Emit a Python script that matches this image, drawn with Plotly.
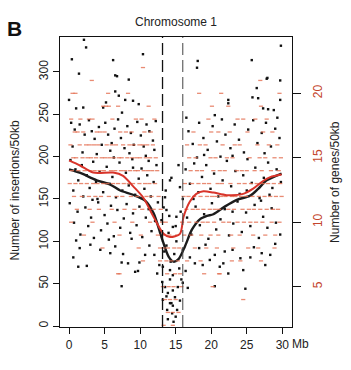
import plotly.graph_objects as go

# ---------------- data ----------------
insertion_points = [
    # top region
    (2.1,338),(2.4,329),(0.4,315),(1.4,298),(6.2,314),(10.4,321),(6.5,296),(6.75,295),(8.4,291),(6.5,277),
    (0.0,267),(1.0,257),(2.0,258),(5.2,264),(7.9,267),(7.0,272),(9.0,266),(9.8,262),(4.8,258),(7.45,252),
    (29.8,331),(18.1,313),(18.0,305),(25.7,314),(27.8,292),(27.9,293),(26.4,281),(26.6,269),(25.8,270),
    (22.4,267),(22.4,263),(29.7,290),(27.3,257),(28.0,256),(28.8,255),(29.7,267),(16.5,246),(29.3,246),
    # left arm 200-250
    (0.3,240),(0.8,232),(1.5,238),(2.2,226),(2.8,243),(3.2,230),(3.6,221),(4.2,235),(4.6,214),(5.1,240),
    (5.5,226),(6.0,216),(6.4,233),(6.9,244),(7.3,222),(7.8,210),(8.2,236),(8.7,228),(9.1,214),(9.6,241),
    (10.1,225),(10.5,212),(10.9,238),(11.3,230),(11.8,219),(12.2,242),(0.5,212),(1.9,205),(3.9,203),
    (5.8,207),(8.5,204),(10.8,201),(12.0,208),
    # left arm 150-200
    (0.2,196),(0.9,185),(1.3,172),(1.8,190),(2.5,178),(2.9,163),(3.4,194),(3.8,170),(4.3,182),(4.8,158),
    (5.3,188),(5.7,168),(6.1,176),(6.6,152),(7.1,193),(7.5,160),(8.0,181),(8.4,166),(8.9,197),(9.3,155),
    (9.8,174),(10.2,186),(10.6,162),(11.0,178),(11.5,153),(11.9,170),(12.3,190),(0.6,160),(2.0,153),
    (4.0,150),(6.3,199),(9.0,187),(11.2,195),
    # left arm 100-150
    (0.1,145),(0.7,122),(1.2,135),(1.6,108),(2.3,140),(2.7,118),(3.1,128),(3.5,104),(4.1,146),(4.5,113),
    (5.0,131),(5.4,121),(5.9,142),(6.3,106),(6.8,137),(7.2,116),(7.7,127),(8.1,144),(8.6,110),(9.0,133),
    (9.5,119),(9.9,141),(10.3,105),(10.8,128),(11.2,138),(11.6,112),(12.1,124),(12.5,146),(1.0,101),
    (3.3,149),(5.6,102),(8.8,103),
    # left arm below 100
    (0.6,81),(1.3,70),(2.5,71),(5.8,86),(7.4,75),(7.6,85),(8.3,74),(7.4,47),(9.3,64),(9.7,65),(9.9,75),
    (10.7,84),(12.0,84),(12.4,62),(12.7,72),(1.5,92),(3.0,96),(4.4,90),(6.5,94),(11.3,95),
    # centromere
    (13.2,70),(13.1,52),(13.2,31),(13.9,39),(14.2,27),(14.6,24),(14.9,34),(14.6,42),(13.8,19),(15.2,19),
    (14.5,15),(13.5,46),(15.3,46),(14.6,60),(13.4,88),(13.7,95),(14.0,110),(14.3,76),(14.8,85),(15.1,100),
    (15.5,68),(15.8,55),(13.0,125),(13.3,140),(14.1,130),(15.0,118),(15.7,135),(16.0,150),(13.6,160),
    (14.4,175),(15.4,190),(13.9,8),(14.7,5),(15.0,11),(14.2,55),(15.6,30),(16.0,90),(13.7,137),(15.1,129),
    (14.6,117),(14.2,66),(13.7,35),(14.4,27),(14.2,172),(15.6,164),(13.5,152),
    # right arm 200-250
    (16.8,230),(17.4,215),(18.3,240),(18.9,222),(19.5,208),(20.2,236),(20.8,218),(21.5,244),(22.0,226),
    (22.7,210),(23.3,238),(23.9,220),(24.6,205),(25.2,232),(25.9,243),(26.5,216),(27.1,228),(27.7,240),
    (28.4,212),(29.0,233),(29.6,222),(19.0,202),(23.0,201),(27.5,204),(20.5,249),
    # right arm 150-200
    (16.4,185),(17.0,168),(17.6,192),(18.2,158),(18.7,176),(19.3,190),(19.9,162),(20.4,180),(21.0,153),
    (21.6,172),(22.2,195),(22.8,165),(23.4,183),(24.0,156),(24.5,178),(25.1,197),(25.7,169),(26.2,187),
    (26.8,151),(27.4,175),(28.0,193),(28.6,163),(29.2,185),(29.8,170),(18.0,199),(21.3,200),(25.0,160),
    (28.2,155),
    # right arm 100-150
    (16.6,128),(17.2,108),(17.8,141),(18.4,119),(19.0,132),(19.6,103),(20.1,145),(20.7,114),(21.3,126),
    (21.9,138),(22.5,107),(23.1,121),(23.7,147),(24.3,111),(24.9,134),(25.5,118),(26.1,143),(26.7,104),
    (27.3,129),(27.9,116),(28.5,139),(29.1,122),(29.7,108),(17.5,150),(23.0,135),(27.0,148),
    # right arm below 100
    (17.0,81),(17.7,74),(18.8,72),(19.8,78),(20.5,84),(21.2,70),(21.7,74),(22.4,62),(24.1,80),(24.5,66),
    (25.5,81),(27.1,86),(28.3,84),(27.6,72),(20.5,47),(24.8,44),(16.7,45),(16.0,51),(18.3,92),(19.2,96),
    (23.0,90),(26.0,93),(29.0,97),(21.9,88),(16.4,65),
]

gene_points = [
    (10.4,22),(3.2,21),(26.9,21),
    (0.5,20),(0.9,20),(8.3,20),(18.3,20),(21.4,20),(29.6,20),(5.5,20),
    (4.8,19),(5.2,19),(5.6,19),(6.9,19),(20.1,19),(22.4,19),(11.2,19),(27.0,19),
    (0.3,18),(1.6,18),(2.8,18),(3.3,18),(6.1,18),(9.4,18),(10.2,18),(12.0,18),(23.7,18),(24.5,18),
    (26.2,18),(27.8,18),(19.6,18),
    (0.8,17),(1.2,17),(2.0,17),(3.9,17),(4.4,17),(5.0,17),(7.2,17),(8.0,17),(8.8,17),(10.6,17),
    (11.5,17),(17.5,17),(21.0,17),(22.6,17),(25.1,17),(27.3,17),(28.6,17),(20.0,17),
    (0.2,16),(1.5,16),(2.4,16),(2.9,16),(3.5,16),(4.1,16),(5.3,16),(6.0,16),(6.6,16),(7.6,16),
    (8.5,16),(9.1,16),(9.9,16),(10.4,16),(11.0,16),(11.8,16),(16.6,16),(18.4,16),(19.2,16),(21.6,16),
    (23.3,16),(24.0,16),(26.5,16),(28.1,16),(29.3,16),
    (0.6,15),(1.0,15),(1.9,15),(2.6,15),(3.1,15),(3.8,15),(4.6,15),(5.1,15),(5.7,15),(6.3,15),
    (7.0,15),(7.4,15),(8.2,15),(8.9,15),(9.5,15),(10.0,15),(10.8,15),(11.4,15),(12.2,15),(16.9,15),
    (17.8,15),(19.9,15),(20.6,15),(22.2,15),(23.0,15),(25.4,15),(26.8,15),(27.6,15),(28.9,15),(29.8,15),
    (0.4,14),(1.3,14),(2.2,14),(3.0,14),(3.6,14),(4.3,14),(4.9,14),(5.9,14),(6.5,14),(7.3,14),
    (7.9,14),(8.6,14),(9.3,14),(9.7,14),(10.5,14),(11.1,14),(11.7,14),(12.4,14),(17.1,14),(18.0,14),
    (18.7,14),(20.3,14),(21.2,14),(21.9,14),(23.6,14),(24.3,14),(25.0,14),(26.1,14),(27.1,14),(28.4,14),
    (29.5,14),
    (0.1,13),(0.9,13),(1.7,13),(2.5,13),(3.4,13),(4.0,13),(4.8,13),(5.4,13),(6.2,13),(6.9,13),
    (7.7,13),(8.4,13),(9.0,13),(9.9,13),(10.7,13),(11.3,13),(12.1,13),(16.3,13),(17.3,13),(18.2,13),
    (19.0,13),(19.7,13),(20.9,13),(21.5,13),(22.7,13),(23.9,13),(24.7,13),(25.6,13),(26.4,13),(27.3,13),
    (28.0,13),(28.8,13),(29.7,13),
    (0.7,12),(1.8,12),(2.8,12),(3.7,12),(4.5,12),(5.6,12),(6.7,12),(7.5,12),(8.7,12),(9.6,12),
    (10.9,12),(11.6,12),(12.6,12),(16.1,12),(16.8,12),(17.6,12),(18.5,12),(19.4,12),(20.1,12),(20.7,12),
    (21.4,12),(22.0,12),(22.9,12),(23.4,12),(24.2,12),(24.9,12),(25.8,12),(26.7,12),(27.5,12),(28.3,12),
    (29.1,12),(29.9,12),
    (1.1,11),(2.9,11),(4.2,11),(6.0,11),(7.8,11),(9.2,11),(10.3,11),(11.9,11),(12.9,11),(16.5,11),
    (17.4,11),(18.1,11),(18.9,11),(19.8,11),(20.5,11),(21.1,11),(22.4,11),(23.2,11),(24.4,11),(25.3,11),
    (26.0,11),(26.9,11),(27.8,11),(28.7,11),(29.4,11),
    (0.3,10),(3.3,10),(6.4,10),(8.9,10),(11.4,10),(13.1,10),(13.6,10),(15.9,10),(16.9,10),(17.9,10),
    (18.8,10),(19.5,10),(20.4,10),(21.7,10),(22.5,10),(23.7,10),(24.6,10),(25.5,10),(26.3,10),(27.2,10),
    (28.5,10),(29.6,10),
    (2.1,9),(7.1,9),(10.1,9),(12.5,9),(13.4,9),(14.1,9),(15.2,9),(16.2,9),(17.2,9),(18.6,9),
    (19.9,9),(21.0,9),(22.8,9),(24.0,9),(25.9,9),(27.6,9),(29.0,9),
    (4.7,8),(9.8,8),(12.8,8),(13.3,8),(13.9,8),(14.8,8),(15.5,8),(17.7,8),(19.3,8),(20.8,8),
    (23.1,8),(25.2,8),(26.6,8),(28.9,8),
    (10.4,7),(12.8,7),(13.7,7),(14.4,7),(15.3,7),(16.6,7),(18.5,7),(22.9,7),(24.1,7),(27.0,7),
    (6.9,6),(7.1,6),(13.8,6),(14.9,6),(15.6,6),(21.1,6),(21.2,6),(19.0,6),
    (13.2,5),(14.0,5),(14.7,5),(15.8,5),(20.2,5),
    (13.5,4),(14.2,4),(15.0,4),(24.5,4),
    (13.9,3),(14.6,3),(15.4,3),
    (14.6,2),(13.3,2),
]

insertion_smooth_x = [0, 1.5, 3.9, 5.8, 7.2, 9.0, 10.7, 11.9, 13.0, 14.0, 14.7, 15.4, 16.3, 17.3,
                      18.4, 19.4, 20.3, 21.9, 23.6, 25.5, 26.6, 27.8, 29.9]
insertion_smooth_y = [185, 181, 172, 167, 160, 155, 148, 133, 105, 82, 76, 79, 94, 114,
                      126, 130, 132, 141, 149, 154, 162, 172, 180]

gene_smooth_x = [0, 1.55, 3.4, 6.2, 7.6, 9.0, 10.45, 11.9, 13.3, 14.2, 15.6, 16.1, 17.0,
                 17.9, 18.9, 20.3, 22.2, 24.5, 25.9, 27.3, 28.3, 29.9]
gene_smooth_y = [14.8, 14.4, 13.85, 13.85, 13.6, 12.8, 11.9, 10.4, 9.1, 8.85, 9.1, 10.4, 11.6,
                 12.2, 12.4, 12.3, 12.1, 12.2, 12.6, 13.2, 13.5, 13.7]

centromere_bounds = [13.15, 16.0]

x_ticks = [0, 5, 10, 15, 20, 25, 30]
left_ticks = [0, 50, 100, 150, 200, 250, 300]
right_ticks = [5, 10, 15, 20]

# ---------------- figure ----------------
FONT = "Liberation Sans, Arial, sans-serif"
RED_LINE = "#d8342a"
RED_DOT = "rgba(228,110,80,0.8)"
RED_TEXT = "#c4452c"

fig = go.Figure()

fig.add_trace(go.Scatter(
    x=[p[0] for p in gene_points], y=[p[1] for p in gene_points],
    mode="markers", yaxis="y2",
    marker=dict(symbol="line-ew", size=3, line=dict(width=1.3, color=RED_DOT)),
    hoverinfo="skip", showlegend=False))

fig.add_trace(go.Scatter(
    x=[p[0] for p in insertion_points], y=[p[1] for p in insertion_points],
    mode="markers", yaxis="y",
    marker=dict(symbol="square", size=2.4, color="#111111", line=dict(width=0)),
    hoverinfo="skip", showlegend=False))

fig.add_trace(go.Scatter(
    x=insertion_smooth_x, y=insertion_smooth_y, mode="lines", yaxis="y",
    line=dict(color="#1c1c1c", width=2.4, shape="spline", smoothing=0.8),
    hoverinfo="skip", showlegend=False))

fig.add_trace(go.Scatter(
    x=gene_smooth_x, y=gene_smooth_y, mode="lines", yaxis="y2",
    line=dict(color=RED_LINE, width=2.0, shape="spline", smoothing=0.8),
    hoverinfo="skip", showlegend=False))

for i, xb in enumerate(centromere_bounds):
    fig.add_shape(type="line", xref="x", yref="paper", x0=xb, x1=xb, y0=0, y1=1,
                  line=dict(color="#111111" if i == 0 else "#444444",
                            width=1.3 if i == 0 else 1.0, dash="12px,5px"))

fig.update_layout(
    width=351, height=370,
    margin=dict(l=60, r=59, t=37, b=43),
    paper_bgcolor="white", plot_bgcolor="white",
    font=dict(family=FONT, size=11, color="#222222"),
    xaxis=dict(range=[-1.27, 31.36], tickvals=x_ticks, ticktext=[str(v) for v in x_ticks],
               showgrid=False, zeroline=False, showline=True, mirror=True,
               linecolor="#111111", linewidth=1.3, ticks="outside", ticklen=6,
               tickwidth=1.3, tickcolor="#111111",
               tickfont=dict(family=FONT, size=12, color="#222222")),
    yaxis=dict(range=[-1.18, 341.3], tickvals=left_ticks, showgrid=False, zeroline=False,
               showline=True, mirror=True, linecolor="#111111", linewidth=1.3,
               ticks="outside", ticklen=6, tickwidth=1.3, tickcolor="#111111",
               tickangle=-90, tickfont=dict(family=FONT, size=12, color="#222222")),
    yaxis2=dict(range=[1.87, 24.37], tickvals=right_ticks, overlaying="y", side="right",
                showgrid=False, zeroline=False, showline=True, linecolor="#111111",
                linewidth=1.3, ticks="outside", ticklen=8, tickwidth=1.3,
                tickcolor="#111111", tickangle=-90, ticklabelstandoff=6,
                tickfont=dict(family=FONT, size=12, color=RED_TEXT)),
)

anns = [
    dict(text="Chromosome 1", x=0.5, y=1.052, font=dict(size=12, color="#222222")),
    dict(text="<b>B</b>", x=-0.194, y=1.031, font=dict(size=21, color="#111111")),
    dict(text="Number of insertions/50kb", x=-0.195, y=0.47, textangle=-90,
         font=dict(size=12, color="#222222")),
    dict(text="Number of genes/50kb", x=1.185, y=0.5, textangle=-90,
         font=dict(size=12, color="#222222")),
    dict(text="Mb", x=1.037, y=-0.0586, font=dict(size=12, color="#222222")),
]
for a in anns:
    fig.add_annotation(xref="paper", yref="paper", showarrow=False,
                       xanchor="center", yanchor="middle", **a)

fig.write_html("out.html")
